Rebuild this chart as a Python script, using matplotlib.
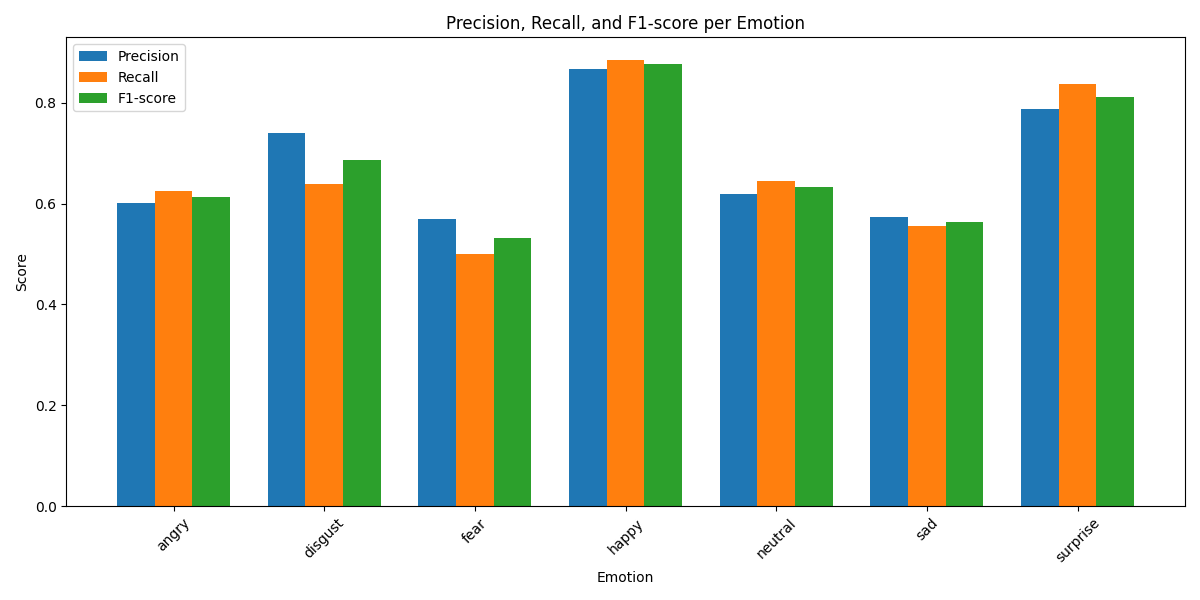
import matplotlib
matplotlib.use('Agg')
import matplotlib.pyplot as plt
import numpy as np

emotions = ['angry', 'disgust', 'fear', 'happy', 'neutral', 'sad', 'surprise']
precision = [0.601, 0.740, 0.570, 0.867, 0.619, 0.574, 0.788]
recall = [0.625, 0.639, 0.500, 0.885, 0.645, 0.556, 0.836]
f1 = [0.613, 0.687, 0.532, 0.877, 0.633, 0.564, 0.812]

x = np.arange(len(emotions))
w = 0.25

fig, ax = plt.subplots(figsize=(12, 6), dpi=100)
ax.bar(x - w, precision, w, label='Precision')
ax.bar(x, recall, w, label='Recall')
ax.bar(x + w, f1, w, label='F1-score')
ax.set_xticks(x)
ax.set_xticklabels(emotions, rotation=45)
ax.set_xlabel('Emotion')
ax.set_ylabel('Score')
ax.set_title('Precision, Recall, and F1-score per Emotion')
ax.legend(loc='upper left')
plt.tight_layout()
plt.savefig('out.png')
